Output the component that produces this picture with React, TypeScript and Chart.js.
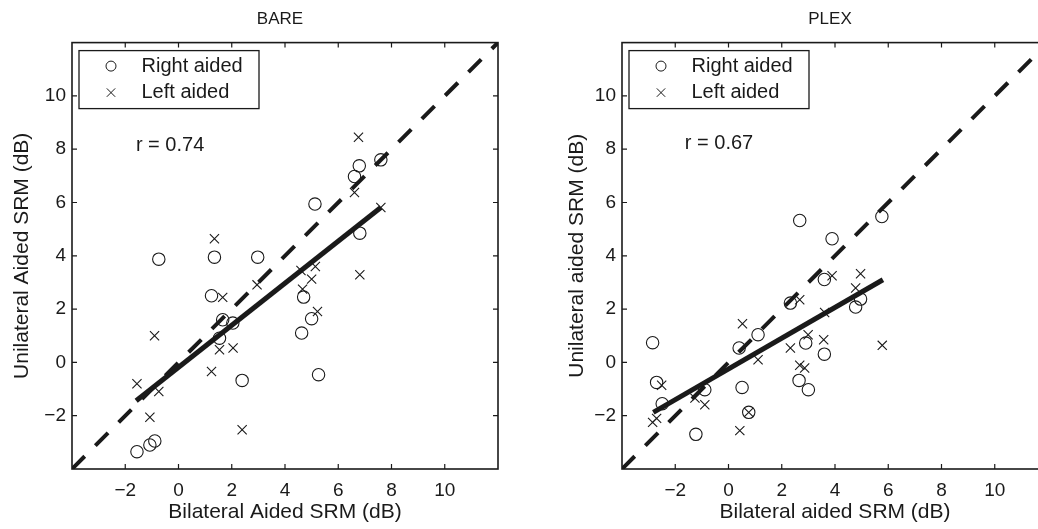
import React, { useEffect, useRef } from 'react';
import { Chart, registerables } from 'chart.js';

Chart.register(...registerables);

const FONT = "'Liberation Sans', Arial, Helvetica, sans-serif";
const INK = '#1a1a1a';

const AXIS_MIN = -4;
const AXIS_MAX = 12;
const TICK_VALUES = [-2, 0, 2, 4, 6, 8, 10];
const SERIES_LABELS = ['Right aided', 'Left aided'];

// ---- BARE panel ----
const BARE_RIGHT_X = [-0.74, 1.35, 2.975, 1.24, 1.66, 2.04, 1.54, 2.39, -1.56, -1.075, -0.89, 5.125, 6.61, 6.79, 7.6, 6.81, 4.7, 5.0, 4.625, 5.26];
const BARE_RIGHT_Y = [3.875, 3.95, 3.95, 2.5, 1.6, 1.475, 0.91, -0.675, -3.35, -3.1, -2.95, 5.94, 6.975, 7.375, 7.6, 4.85, 2.45, 1.64, 1.1, -0.46];
const BARE_LEFT_X = [6.76, 6.61, 7.6, 1.35, 6.81, 5.14, 5.0, 4.6, 4.66, 5.22, 2.95, 1.66, -0.9, 1.54, 2.05, 1.24, -1.56, -0.74, -1.075, 2.39];
const BARE_LEFT_Y = [8.45, 6.375, 5.81, 4.64, 3.29, 3.6, 3.125, 3.45, 2.75, 1.91, 2.91, 2.44, 1.0, 0.475, 0.54, -0.34, -0.8, -1.09, -2.06, -2.525];
const BARE_FIT_X = [-1.59, 7.6];
const BARE_FIT_Y = [-1.44, 5.81];
const BARE_R = 'r = 0.74';

// ---- PLEX panel ----
const PLEX_RIGHT_X = [2.675, 5.76, 3.89, 3.6, 2.325, 4.775, 4.96, -2.85, 0.4, 1.11, 2.9, 3.6, -2.7, -2.49, -0.89, 0.51, 0.76, -1.225, 2.65, 3.0];
const PLEX_RIGHT_Y = [5.325, 5.475, 4.64, 3.11, 2.225, 2.075, 2.375, 0.74, 0.54, 1.04, 0.725, 0.31, -0.75, -1.55, -1.025, -0.94, -1.875, -2.7, -0.675, -1.025];
const PLEX_LEFT_X = [4.96, 3.89, 4.775, 2.675, 3.61, 2.99, 3.575, 2.325, 5.775, 2.675, 2.86, 0.525, 1.11, -2.51, -0.89, -1.26, -2.85, -2.7, 0.425, 0.76];
const PLEX_LEFT_Y = [3.325, 3.25, 2.79, 2.35, 1.875, 1.04, 0.85, 0.54, 0.64, -0.11, -0.21, 1.45, 0.1, -0.86, -1.59, -1.34, -2.25, -2.1, -2.56, -1.875];
const PLEX_FIT_X = [-2.825, 5.8];
const PLEX_FIT_Y = [-1.875, 3.1];
const PLEX_R = 'r = 0.67';

type Pt = { x: number; y: number };
const zip = (xs: number[], ys: number[]): Pt[] => xs.map((x, i) => ({ x, y: ys[i] }));
const fmtTick = (v: number | string) => {
  const n = Number(v);
  return n < 0 ? '\u2212' + Math.abs(n) : String(n);
};

interface PanelSpec {
  title: string;
  xTitle: string;
  yTitle: string;
  rightX: number[];
  rightY: number[];
  leftX: number[];
  leftY: number[];
  fitX: number[];
  fitY: number[];
  rLabel: string;
  rAt: Pt;
  yTitlePad: number;
}

const PANELS: PanelSpec[] = [
  {
    title: 'BARE',
    xTitle: 'Bilateral Aided SRM (dB)',
    yTitle: 'Unilateral Aided SRM (dB)',
    rightX: BARE_RIGHT_X, rightY: BARE_RIGHT_Y,
    leftX: BARE_LEFT_X, leftY: BARE_LEFT_Y,
    fitX: BARE_FIT_X, fitY: BARE_FIT_Y,
    rLabel: BARE_R, rAt: { x: -1.6, y: 8.13 },
    yTitlePad: 10,
  },
  {
    title: 'PLEX',
    xTitle: 'Bilateral aided SRM (dB)',
    yTitle: 'Unilateral aided SRM (dB)',
    rightX: PLEX_RIGHT_X, rightY: PLEX_RIGHT_Y,
    leftX: PLEX_LEFT_X, leftY: PLEX_LEFT_Y,
    fitX: PLEX_FIT_X, fitY: PLEX_FIT_Y,
    rLabel: PLEX_R, rAt: { x: -1.64, y: 8.2 },
    yTitlePad: 15,
  },
];

const CANVAS_W = 560;
const CANVAS_H = 529;
const PANEL_LEFTS = [0, 550];

const framePlugin = {
  id: 'frame',
  afterDraw(chart: any, _args: any, opts: any) {
    const { ctx, chartArea: a, scales } = chart;
    const xs = scales.x;
    const ys = scales.y;
    ctx.save();
    ctx.strokeStyle = INK;
    ctx.lineWidth = 1.6;
    ctx.strokeRect(a.left, a.top, a.right - a.left, a.bottom - a.top);
    ctx.beginPath();
    const tl = 5;
    TICK_VALUES.forEach((v) => {
      const px = xs.getPixelForValue(v);
      ctx.moveTo(px, a.bottom);
      ctx.lineTo(px, a.bottom - tl);
      ctx.moveTo(px, a.top);
      ctx.lineTo(px, a.top + tl);
      const py = ys.getPixelForValue(v);
      ctx.moveTo(a.left, py);
      ctx.lineTo(a.left + tl, py);
      ctx.moveTo(a.right, py);
      ctx.lineTo(a.right - tl, py);
    });
    ctx.lineWidth = 1.2;
    ctx.stroke();

    // correlation text
    ctx.fillStyle = INK;
    ctx.font = `20px ${FONT}`;
    ctx.textAlign = 'left';
    ctx.textBaseline = 'middle';
    ctx.fillText(opts.rLabel, xs.getPixelForValue(opts.rAt.x), ys.getPixelForValue(opts.rAt.y));

    // legend box
    const bx = a.left + 7;
    const by = a.top + 8;
    ctx.fillStyle = '#ffffff';
    ctx.fillRect(bx, by, 180, 58);
    ctx.strokeStyle = INK;
    ctx.lineWidth = 1.3;
    ctx.strokeRect(bx, by, 180, 58);
    const mx = a.left + 39;
    const r1 = a.top + 23.5;
    const r2 = a.top + 50;
    ctx.lineWidth = 1;
    ctx.beginPath();
    ctx.arc(mx, r1, 5, 0, Math.PI * 2);
    ctx.stroke();
    ctx.beginPath();
    const h = 4.2;
    ctx.moveTo(mx - h, r2 - h);
    ctx.lineTo(mx + h, r2 + h);
    ctx.moveTo(mx - h, r2 + h);
    ctx.lineTo(mx + h, r2 - h);
    ctx.stroke();
    ctx.fillStyle = INK;
    ctx.font = `20px ${FONT}`;
    ctx.fillText(SERIES_LABELS[0], a.left + 69.5, r1);
    ctx.fillText(SERIES_LABELS[1], a.left + 69.5, r2);
    ctx.restore();
  },
};

function makeConfig(spec: PanelSpec): any {
  return {
    type: 'scatter',
    data: {
      datasets: [
        {
          label: 'identity',
          data: [{ x: AXIS_MIN, y: AXIS_MIN }, { x: AXIS_MAX, y: AXIS_MAX }],
          showLine: true,
          borderColor: INK,
          borderWidth: 4,
          borderDash: [18, 15],
          borderCapStyle: 'butt',
          pointRadius: 0,
          fill: false,
          clip: 0,
          order: 3,
        },
        {
          label: 'fit',
          data: zip(spec.fitX, spec.fitY),
          showLine: true,
          borderColor: INK,
          borderWidth: 5,
          borderCapStyle: 'butt',
          pointRadius: 0,
          fill: false,
          order: 2,
        },
        {
          label: SERIES_LABELS[0],
          data: zip(spec.rightX, spec.rightY),
          pointStyle: 'circle',
          pointRadius: 6.2,
          borderColor: INK,
          backgroundColor: 'rgba(0,0,0,0)',
          borderWidth: 1.1,
          order: 1,
        },
        {
          label: SERIES_LABELS[1],
          data: zip(spec.leftX, spec.leftY),
          pointStyle: 'crossRot',
          pointRadius: 6.5,
          borderColor: INK,
          backgroundColor: 'rgba(0,0,0,0)',
          borderWidth: 1.1,
          order: 0,
        },
      ],
    },
    options: {
      responsive: false,
      animation: false,
      devicePixelRatio: 1,
      events: [],
      layout: { padding: 0 },
      plugins: {
        legend: { display: false },
        tooltip: { enabled: false },
        title: {
          display: true,
          text: spec.title,
          color: INK,
          font: { family: FONT, size: 17, weight: 'normal', lineHeight: 1.2 },
          padding: { top: 9, bottom: 13.2 },
        },
        frame: { rLabel: spec.rLabel, rAt: spec.rAt },
      },
      scales: {
        x: {
          type: 'linear',
          position: 'bottom',
          min: AXIS_MIN,
          max: AXIS_MAX,
          afterBuildTicks: (s: any) => {
            s.ticks = TICK_VALUES.map((v) => ({ value: v }));
          },
          afterFit: (s: any) => {
            s.height = 60;
          },
          grid: { display: false, drawTicks: false },
          border: { display: false },
          ticks: {
            color: INK,
            font: { family: FONT, size: 19 },
            padding: 10,
            maxRotation: 0,
            autoSkip: false,
            callback: fmtTick,
          },
          title: {
            display: true,
            text: spec.xTitle,
            color: INK,
            font: { family: FONT, size: 21 },
            padding: { top: 0, bottom: 4 },
          },
        },
        y: {
          type: 'linear',
          position: 'left',
          min: AXIS_MIN,
          max: AXIS_MAX,
          afterBuildTicks: (s: any) => {
            s.ticks = TICK_VALUES.map((v) => ({ value: v }));
          },
          afterFit: (s: any) => {
            s.width = 72;
          },
          grid: { display: false, drawTicks: false },
          border: { display: false },
          ticks: {
            color: INK,
            font: { family: FONT, size: 19 },
            padding: 6,
            autoSkip: false,
            callback: fmtTick,
          },
          title: {
            display: true,
            text: spec.yTitle,
            color: INK,
            font: { family: FONT, size: 21 },
            padding: { top: spec.yTitlePad, bottom: 0 },
          },
        },
        yRight: {
          type: 'linear',
          position: 'right',
          min: AXIS_MIN,
          max: AXIS_MAX,
          afterFit: (s: any) => {
            s.width = 62;
          },
          grid: { display: false, drawTicks: false },
          border: { display: false },
          ticks: { display: false },
          title: { display: false },
        },
      },
    },
    plugins: [framePlugin],
  };
}

function Panel({ spec, left }: { spec: PanelSpec; left: number }) {
  const ref = useRef<HTMLCanvasElement | null>(null);
  useEffect(() => {
    if (!ref.current) return;
    const chart = new Chart(ref.current, makeConfig(spec));
    return () => chart.destroy();
  }, [spec]);
  return (
    <canvas
      ref={ref}
      width={CANVAS_W}
      height={CANVAS_H}
      style={{ position: 'absolute', left, top: 0, width: CANVAS_W, height: CANVAS_H }}
    />
  );
}

export default function App() {
  return (
    <div
      style={{
        position: 'fixed',
        left: 0,
        top: 0,
        width: 1038,
        height: 529,
        overflow: 'hidden',
        background: '#ffffff',
      }}
    >
      {PANELS.map((p, i) => (
        <Panel key={p.title} spec={p} left={PANEL_LEFTS[i]} />
      ))}
    </div>
  );
}
